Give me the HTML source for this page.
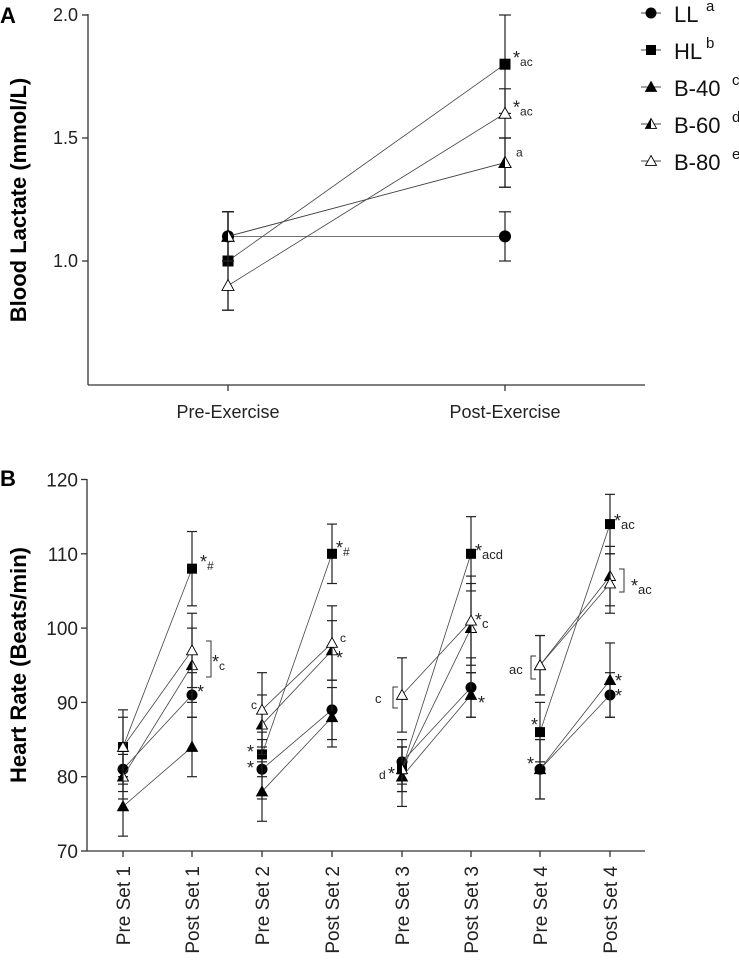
<!DOCTYPE html>
<html><head><meta charset="utf-8"><style>
body{margin:0;background:#fff;}
svg{font-family:"Liberation Sans",sans-serif;display:block}
</style></head><body>
<svg id="c" width="739" height="961" viewBox="0 0 739 961"></svg>
<script>
// Panel A data
const aCats=["Pre-Exercise","Post-Exercise"];
const aLL=[1.1,1.1], aLLe=[0.1,0.1];
const aHL=[1.0,1.8], aHLe=[0.2,0.2];
const aB40=[1.1,1.4], aB40e=[0.1,0.1];
const aB60=[1.1,1.4], aB60e=[0.1,0.1];
const aB80=[0.9,1.6], aB80e=[0.1,0.1];
const aTicks=[1.0,1.5,2.0];
// Panel B data
const bCats=["Pre Set 1","Post Set 1","Pre Set 2","Post Set 2","Pre Set 3","Post Set 3","Pre Set 4","Post Set 4"];
const bLL=[81,91,81,89,82,92,81,91], bLLe=[3,3,4,4,3,4,4,3];
const bHL=[84,108,83,110,81,110,86,114], bHLe=[4,5,3,4,3,5,4,4];
const bB40=[76,84,78,88,80,91,81,93], bB40e=[4,4,4,4,4,3,4,5];
const bB60=[80,95,87,97,81,100,95,107], bB60e=[3,5,4,4,3,6,4,4];
const bB80=[84,97,89,98,91,101,95,106], bB80e=[5,5,5,5,5,6,4,4];
const bTicks=[70,80,90,100,110,120];

const NS="http://www.w3.org/2000/svg", svg=document.getElementById('c');
function el(t,a,p){const e=document.createElementNS(NS,t);for(const k in a)e.setAttribute(k,a[k]);(p||svg).appendChild(e);return e;}
function txt(x,y,s,a,p){const e=el('text',Object.assign({x:x,y:y},a||{}),p);e.textContent=s;return e;}
function ann(x,y,star,sub,fs){
  const e=el('text',{x:x,y:y,fill:'#222','font-size':fs||12});
  if(star){const s=el('tspan',{'font-size':18,dy:4},e);s.textContent='*';}
  if(sub){const s=el('tspan',{'font-size':fs||12,dy:star?2:0},e);s.textContent=sub;}
  return e;
}

// scales
const ayA=v=>261-(v-1)*246, axA=i=>[228,505][i];
const ayB=v=>851-(v-70)*7.43, axB=i=>[123,192,262,332,402,471,540,610][i];

function marker(g,kind,x,y,s){
  if(kind==='circle'){const m=el('circle',{cx:x,cy:y,r:s*0.55,fill:'#000'},g);}
  else if(kind==='square'){const m=el('rect',{x:x-s*0.5,y:y-s*0.5,width:s,height:s,fill:'#000'},g);}
  else{
    const h=s*0.55;const pts=`${x},${y-h} ${x+h},${y+h*0.8} ${x-h},${y+h*0.8}`;
    const m=el('polygon',{points:pts,fill:kind==='tri'?'#000':'#fff',stroke:'#000','stroke-width':0.9},g);
    
    if(kind==='half'){el('polygon',{points:`${x},${y-h} ${x},${y+h*0.8} ${x-h},${y+h*0.8}`,fill:'#000'},g);}
  }
}
function series(name,vals,errs,kind,xf,yf,s,cap){
  const g=el('g',{});
  for(let i=0;i<vals.length;i++){
    const x=xf(i),y1=yf(vals[i]-errs[i]),y2=yf(vals[i]+errs[i]);
    el('line',{x1:x,x2:x,y1:y1,y2:y2,stroke:'#222','stroke-width':1.2},g);
    el('line',{x1:x-cap,x2:x+cap,y1:y1,y2:y1,stroke:'#222','stroke-width':1.2},g);
    el('line',{x1:x-cap,x2:x+cap,y1:y2,y2:y2,stroke:'#222','stroke-width':1.2},g);
  }
  for(let i=0;i+1<vals.length;i+=2){
    el('line',{x1:xf(i),y1:yf(vals[i]),x2:xf(i+1),y2:yf(vals[i+1]),stroke:'#444','stroke-width':0.8},g);
  }
  for(let i=0;i<vals.length;i++)marker(g,kind,xf(i),yf(vals[i]),s);
}

// ---- Panel A ----
txt(0,23,'A',{'font-weight':'bold','font-size':22});
let ax=el('g',{});
el('line',{x1:88,y1:14,x2:88,y2:385,stroke:'#333','stroke-width':1.3},ax);
el('line',{x1:88,y1:385,x2:645,y2:385,stroke:'#333','stroke-width':1.3},ax);
aTicks.forEach(v=>{el('line',{x1:82,x2:88,y1:ayA(v),y2:ayA(v),stroke:'#333','stroke-width':1.3},ax);
  txt(78,ayA(v)+6,v.toFixed(1),{'text-anchor':'end','font-size':18,fill:'#222'},ax);});
aCats.forEach((c,i)=>{el('line',{x1:axA(i),x2:axA(i),y1:385,y2:391,stroke:'#333','stroke-width':1.3},ax);
  txt(axA(i),418,c,{'text-anchor':'middle','font-size':18,fill:'#222'},ax);});
let t=txt(0,0,'Blood Lactate (mmol/L)',{'font-weight':'bold','font-size':22,'text-anchor':'middle',transform:'translate(26,200) rotate(-90)'});

series('series-a-ll',aLL,aLLe,'circle',axA,ayA,11,6);
series('series-a-hl',aHL,aHLe,'square',axA,ayA,11,6);
series('series-a-b40',aB40,aB40e,'tri',axA,ayA,11,6);
series('series-a-b60',aB60,aB60e,'half',axA,ayA,11,6);
series('series-a-b80',aB80,aB80e,'open',axA,ayA,11,6);
ann(513,ayA(1.8)-4,true,'ac',12);ann(513,ayA(1.6)-4,true,'ac',12);ann(516,ayA(1.4)-6,false,'a',12);
// legend
const legN=['LL','HL','B-40','B-60','B-80'],legS=['a','b','c','d','e'],legK=['circle','square','tri','half','open'];
legN.forEach((n,i)=>{const g=el('g',{});
  const y=13+i*37;el('line',{x1:641,x2:661,y1:y,y2:y,stroke:'#444','stroke-width':1},g);marker(g,legK[i],651,y,10);
  txt(674,y+9,n,{'font-size':22,fill:'#111'},g);txt(674+n.length*13+6,y-2,legS[i],{'font-size':15,fill:'#111'},g);});

// ---- Panel B ----
txt(0,486,'B',{'font-weight':'bold','font-size':22});
let bx=el('g',{});
el('line',{x1:87,y1:479,x2:87,y2:851,stroke:'#333','stroke-width':1.3},bx);
el('line',{x1:87,y1:851,x2:645,y2:851,stroke:'#333','stroke-width':1.3},bx);
bTicks.forEach(v=>{el('line',{x1:81,x2:87,y1:ayB(v),y2:ayB(v),stroke:'#333','stroke-width':1.3},bx);
  txt(78,ayB(v)+7,v,{'text-anchor':'end','font-size':19,fill:'#222'},bx);});
bCats.forEach((c,i)=>{el('line',{x1:axB(i),x2:axB(i),y1:851,y2:857,stroke:'#333','stroke-width':1.3},bx);
  txt(0,0,c,{'text-anchor':'end','font-size':19,fill:'#222',transform:`translate(${axB(i)+7},866) rotate(-90)`},bx);});
t=txt(0,0,'Heart Rate (Beats/min)',{'font-weight':'bold','font-size':22,'text-anchor':'middle',transform:'translate(26,665) rotate(-90)'});

series('series-b-ll',bLL,bLLe,'circle',axB,ayB,10,5);
series('series-b-hl',bHL,bHLe,'square',axB,ayB,10,5);
series('series-b-b40',bB40,bB40e,'tri',axB,ayB,10,5);
series('series-b-b60',bB60,bB60e,'half',axB,ayB,10,5);
series('series-b-b80',bB80,bB80e,'open',axB,ayB,10,5);
// annotations
ann(200,564,true,'#');ann(197,694,true,'');ann(212,664,true,'c');
ann(336,550,true,'#');txt(340,642,'c',{'font-size':12,fill:'#222'});ann(336,660,true,'');
txt(251,709,'c',{'font-size':12,fill:'#222'});ann(247,754,true,'');ann(247,770,true,'');
ann(475,553,true,'acd',13);ann(475,622,true,'c',13);ann(478,705,true,'');
txt(375,703,'c',{'font-size':13,fill:'#222'});txt(379,779,'d',{'font-size':12,fill:'#222'});ann(388,776,true,'');
ann(531,727,true,'');ann(527,766,true,'');ann(614,523,true,'ac',13);ann(615,683,true,'');ann(615,698,true,'');
ann(631,588,true,'ac',13);txt(509,674,'ac',{'font-size':13,fill:'#222'});
// brackets
[[211,641,677,1],[393,687,708,-1],[531,656,679,-1],[624,569,592,1]].forEach(b=>{
  const d=b[3]*5;el('path',{d:`M${b[0]-d} ${b[1]} H${b[0]} V${b[2]} H${b[0]-d}`,fill:'none',stroke:'#333','stroke-width':1});});
</script>
</body></html>
